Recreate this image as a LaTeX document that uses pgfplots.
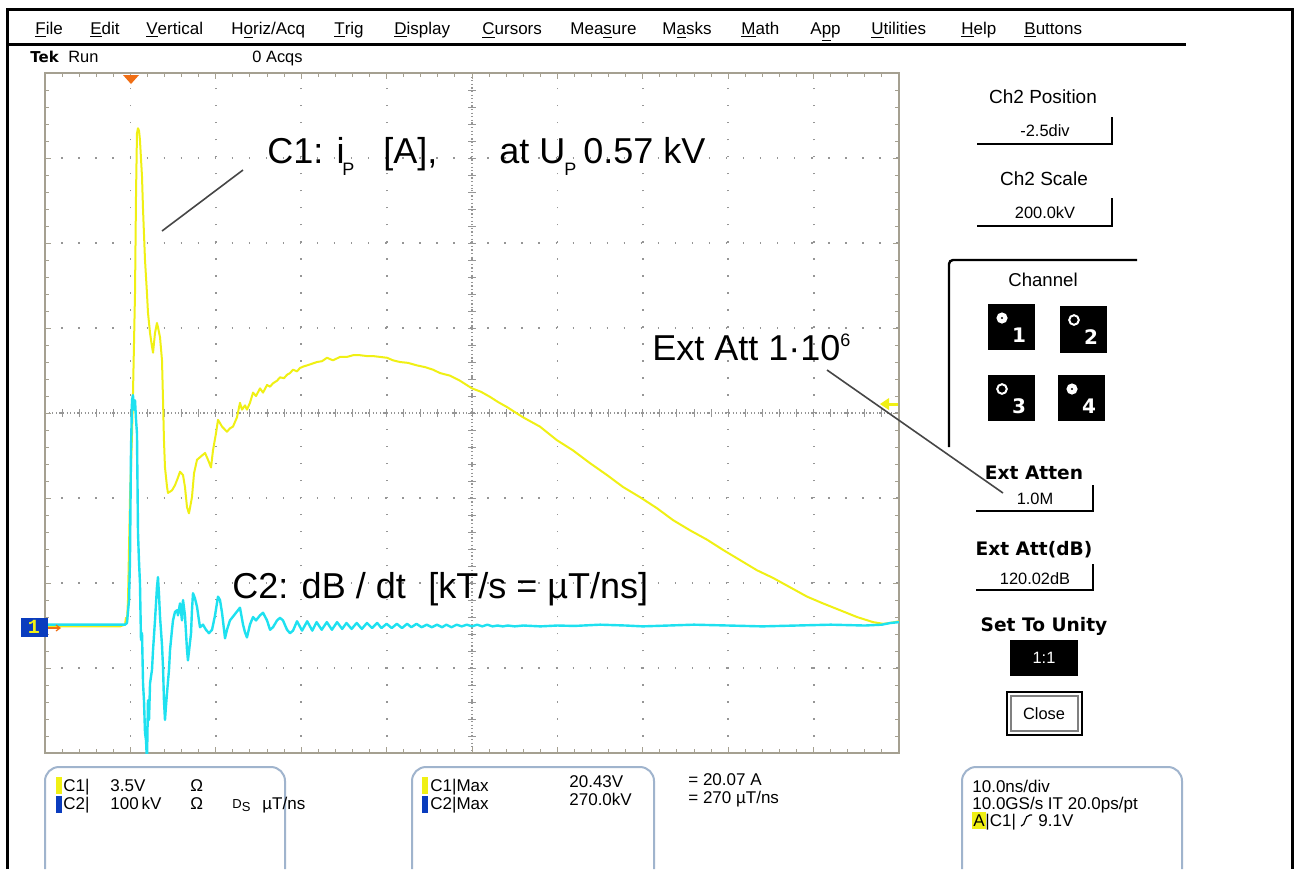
\documentclass[border=0pt]{standalone}
\usepackage{pgfplots}
\pgfplotsset{compat=1.18}
\usepackage{fontspec}
\setmainfont{Liberation Sans}
\newfontfamily\dvs{DejaVu Sans}
\newfontfamily\lmono{Liberation Mono}
\definecolor{tyel}{RGB}{240,240,20}
\definecolor{tcyan}{RGB}{30,225,240}
\definecolor{gridc}{RGB}{150,150,150}
\definecolor{framec}{RGB}{165,160,145}
\definecolor{boxc}{RGB}{160,180,205}
\definecolor{ubar}{RGB}{10,60,190}
\definecolor{trigc}{RGB}{240,110,20}
\definecolor{ann}{RGB}{70,70,70}
\newcommand{\fs}[1]{\fontsize{#1}{#1}\selectfont}
\begin{document}
\begin{tikzpicture}
\useasboundingbox (0,0) rectangle (647pt,-434.5pt);
\fill[white] (0,0) rectangle (647pt,-434.5pt);
\begin{scope}[x=0.5pt,y=-0.5pt]
% frame
\draw[line width=1.5pt] (7,869) -- (7,9) -- (1292,9) -- (1292,869);
\draw[line width=1.3pt] (8,44.5) -- (1186,44.5);
% menu
\foreach \x/\t in {35/{\underline{F}ile},90/{\underline{E}dit},146/{\underline{V}ertical},231/{H\underline{o}riz/Acq},334/{\underline{T}rig},394/{\underline{D}isplay},482/{\underline{C}ursors},570/{Mea\underline{s}ure},662/{M\underline{a}sks},741/{\underline{M}ath},810/{A\underline{p}p},871/{\underline{U}tilities},961/{\underline{H}elp},1024/{\underline{B}uttons}}
  \node[anchor=base west, inner sep=0, font=\fs{8.5}] at (\x,34) {\t};
\node[anchor=base west, inner sep=0, font=\dvs\bfseries\fs{7.5}] at (30,62) {Tek};
\node[anchor=base west, inner sep=0, font=\fs{8.2}] at (68,62) {Run};
\node[anchor=base west, inner sep=0, font=\fs{8.2}] at (252,62) {0 Acqs};
% centre cross
\draw[gridc, line width=0.6pt, dash pattern=on 0.6pt off 1.2pt] (45,413) -- (899,413);
\draw[gridc, line width=0.6pt, dash pattern=on 0.6pt off 1.2pt] (472,73) -- (472,753);
\foreach \i in {0,...,50} \draw[gridc, line width=0.5pt] ({45+17.08*\i},409) -- ({45+17.08*\i},417);
\foreach \i in {0,...,40} \draw[gridc, line width=0.5pt] (468,{73+17*\i}) -- (476,{73+17*\i});
\end{scope}

\begin{axis}[at={(22.5pt,-376.5pt)}, anchor=south west, scale only axis,
  width=427pt, height=340pt, xmin=0, xmax=100, ymin=-4, ymax=4,
  xtick={0,10,...,100}, ytick={-4,-3,...,4}, minor x tick num=4, minor y tick num=4,
  xticklabel=\empty, yticklabel=\empty, tick align=inside,
  major tick length=3pt, minor tick length=2pt,
  every tick/.style={framec, line width=0.5pt},
  axis line style={framec, line width=0.9pt},
  grid=major, major grid style={gridc, line width=0.9pt, dash pattern=on 0.7pt off 7.82pt, dash phase=0.35pt}]
\addplot[tyel, line width=1pt, line join=round] coordinates {
(0,-2.51) (8.78,-2.51) (9.37,-2.49) (9.48,-2.41) (9.60,-2.45) (9.72,-2.20) (9.95,-1.02) (10.19,-0.24)
(10.30,0.21) (10.54,1.41) (10.66,2.59) (10.77,3.29) (10.89,3.35) (11.01,3.32) (11.12,3.21) (11.36,2.78)
(11.48,2.39) (11.71,1.80) (11.94,1.41) (12.06,1.18) (12.30,0.94) (12.53,0.78) (12.65,0.71) (12.88,0.94)
(13.11,1.06) (13.23,1.01) (13.47,0.89) (13.70,0.62) (13.82,0.15) (13.93,-0.32) (14.05,-0.64) (14.29,-0.87)
(14.40,-0.94) (14.87,-0.91) (15.22,-0.85) (15.57,-0.76) (15.81,-0.69) (16.16,-0.73) (16.39,-0.87) (16.63,-1.11)
(16.86,-1.18) (17.21,-0.99) (17.45,-0.71) (17.80,-0.55) (18.15,-0.52) (18.74,-0.47) (19.09,-0.55) (19.44,-0.64)
(19.67,-0.44) (20.02,-0.24) (20.26,-0.08) (20.73,-0.16) (21.31,-0.22) (21.66,-0.18) (22.01,-0.16) (22.48,-0.05)
(22.83,0.12) (23.07,0.04) (23.42,0.09) (23.65,0.04) (24.00,0.12) (24.36,0.24) (24.71,0.20) (25.18,0.29)
(25.53,0.24) (26.00,0.33) (26.35,0.31) (26.70,0.35) (27.17,0.38) (27.52,0.42) (27.99,0.41) (28.34,0.45)
(28.69,0.47) (29.04,0.51) (29.51,0.49) (29.86,0.53) (30.33,0.55) (30.68,0.56) (31.26,0.58) (31.85,0.60)
(32.44,0.61) (33.02,0.65) (33.72,0.62) (34.54,0.66) (35.36,0.66) (36.07,0.68) (36.89,0.68) (37.70,0.67)
(38.41,0.67) (39.23,0.66) (40.05,0.65) (40.75,0.62) (41.57,0.60) (42.51,0.59) (43.56,0.56) (44.50,0.54)
(45.43,0.51) (46.25,0.47) (47.42,0.44) (48.59,0.38) (50.00,0.29) (51.05,0.25) (52.11,0.19) (53.04,0.13)
(54.10,0.07) (55.97,-0.05) (57.96,-0.16) (59.95,-0.32) (61.83,-0.44) (63.82,-0.59) (65.81,-0.73) (67.68,-0.87)
(69.67,-0.99) (71.66,-1.12) (73.54,-1.26) (75.53,-1.38) (77.52,-1.49) (79.39,-1.61) (81.38,-1.73) (83.37,-1.85)
(85.25,-1.94) (87.24,-2.05) (89.23,-2.16) (91.10,-2.24) (93.09,-2.32) (95.08,-2.40) (96.96,-2.46) (98.13,-2.48)
(98.95,-2.47) (100,-2.45)};
\addplot[tcyan, line width=1.2pt, line join=round] coordinates {
(0,-2.49) (9.37,-2.49) (9.60,-2.47) (9.84,-2.2) (9.95,-1.73) (10.07,-0.44) (10.19,0.15) (10.30,0.21)
(10.42,0.04) (10.54,0.15) (10.66,-0.08) (10.77,-0.24) (10.89,-1.41) (11.00,-1.73) (11.12,-2.0) (11.24,-2.67)
(11.36,-2.59) (11.48,-3.18) (11.59,-3.38) (11.71,-3.76) (11.83,-3.85) (11.94,-4.1) (12.06,-3.38) (12.18,-3.61)
(12.30,-3.18) (12.53,-3.02) (12.65,-2.79) (12.88,-2.44) (13.11,-2.05) (13.23,-1.93) (13.35,-2.14) (13.47,-2.40)
(13.70,-2.73) (13.82,-2.99) (13.93,-3.38) (14.05,-3.61) (14.17,-3.44) (14.29,-3.29) (14.52,-3.02) (14.64,-2.79)
(14.87,-2.55) (14.99,-2.44) (15.22,-2.34) (15.46,-2.32) (15.57,-2.38) (15.81,-2.24) (16.04,-2.44) (16.16,-2.20)
(16.39,-2.38) (16.63,-2.79) (16.74,-2.91) (17.10,-2.59) (17.21,-2.32) (17.33,-2.12) (17.56,-2.18) (17.80,-2.28)
(18.03,-2.44) (18.15,-2.52) (18.50,-2.49) (18.85,-2.55) (19.20,-2.59) (19.56,-2.55) (19.91,-2.38) (20.26,-2.16)
(20.49,-2.20) (20.73,-2.35) (21.08,-2.65) (21.31,-2.55) (21.66,-2.44) (22.13,-2.38) (22.60,-2.32) (22.83,-2.29)
(23.19,-2.49) (23.42,-2.58) (23.65,-2.64) (24.00,-2.49) (24.36,-2.40) (24.71,-2.44) (25.18,-2.38) (25.53,-2.35)
(26.00,-2.44) (26.35,-2.55) (26.70,-2.52) (27.17,-2.44) (27.52,-2.41) (27.87,-2.44) (28.34,-2.55) (28.69,-2.59)
(29.04,-2.56) (29.51,-2.45) (30.1,-2.56) (30.7,-2.45) (31.3,-2.56) (31.8,-2.46) (32.4,-2.55) (33.0,-2.46)
(33.6,-2.55) (34.2,-2.46) (34.8,-2.54) (35.3,-2.47) (35.9,-2.54) (36.5,-2.47) (37.1,-2.54) (37.7,-2.47)
(38.3,-2.53) (38.9,-2.47) (39.4,-2.53) (40.0,-2.48) (40.6,-2.53) (41.2,-2.48) (41.8,-2.53) (42.4,-2.48)
(42.9,-2.52) (43.5,-2.48) (44.1,-2.52) (44.7,-2.49) (45.3,-2.52) (45.9,-2.49) (46.5,-2.52) (47.0,-2.49)
(47.6,-2.52) (48.2,-2.49) (48.8,-2.51) (49.4,-2.49) (50.0,-2.51) (50.6,-2.49) (51.2,-2.51) (51.8,-2.49)
(52.4,-2.51) (53.0,-2.50) (53.6,-2.51) (54.2,-2.50) (55.0,-2.51) (56.0,-2.50) (58.0,-2.51) (60.0,-2.50)
(62.0,-2.505) (65.0,-2.49) (68.0,-2.50) (70.0,-2.51) (73.0,-2.50) (76.0,-2.49) (80.0,-2.50) (84.0,-2.51)
(88.0,-2.50) (92.0,-2.49) (96.0,-2.50) (98.0,-2.49) (99.0,-2.47) (100,-2.46)};
\end{axis}

\begin{scope}[x=0.5pt,y=-0.5pt]
% markers
\fill[trigc] (123,75) -- (139,75) -- (131,84) -- cycle;
\fill[tyel] (880,404) -- (889,398) -- (889,410) -- cycle;
\draw[tyel, line width=1.5pt] (888,404) -- (898,404);
\fill[ubar] (21,618) rectangle (48,637);
\node[text=tyel, font=\lmono\bfseries\fs{10}, inner sep=0] at (34,627) {1};
\draw[trigc, line width=0.6pt] (48,628) -- (60,628);
\draw[trigc, line width=0.6pt] (56,625) -- (60,628) -- (56,631);
% annotations
\draw[ann, line width=0.8pt] (243,170) -- (162,231);
\draw[ann, line width=0.8pt] (827,370) -- (1003,493);
\begin{scope}[every node/.style={anchor=base west, inner sep=0}]
\node[font=\fs{18}] at (267,163) {C1: i};
\node[font=\fs{9}] at (342,175) {P};
\node[font=\fs{18}] at (383,163) {[A],};
\node[font=\fs{18}] at (499,163) {at U};
\node[font=\fs{9}] at (564,175) {P};
\node[font=\fs{18}] at (583,163) {0.57 kV};
\node[font=\fs{18}] at (232,598) {C2: dB / dt};
\node[font=\fs{18}] at (428,598) {[kT/s = µT/ns]};
\node[font=\fs{18}] at (652,360) {Ext Att 1·10};
\node[font=\fs{9}] at (840,346) {6};
\end{scope}
% right panel
\node[font=\fs{9.5}] at (1043,97) {Ch2 Position};
\node[font=\fs{8.2}] at (1045,131) {-2.5div};
\draw[line width=0.8pt] (977,144) -- (1112,144) -- (1112,117);
\node[font=\fs{9.5}] at (1044,179) {Ch2 Scale};
\node[font=\fs{8.2}] at (1045,213) {200.0kV};
\draw[line width=0.8pt] (977,226) -- (1112,226) -- (1112,198);
\draw[line width=1.2pt, rounded corners=2pt] (949,447) -- (949,260) -- (1137,260);
\node[font=\fs{9.3}] at (1043,280) {Channel};
\fill (988,304) rectangle (1035,350);
\fill (1060,306) rectangle (1107,353);
\fill (988,375) rectangle (1035,421);
\fill (1058,375) rectangle (1105,421);
\fill[white] (1002,318) circle (2.8pt); \fill (1002,318) circle (0.6pt);
\draw[white, line width=1pt] (1074,320) circle (2.4pt);
\draw[white, line width=1pt] (1002,389) circle (2.4pt);
\fill[white] (1072,389) circle (2.8pt); \fill (1072,389) circle (0.6pt);
\node[text=white, font=\dvs\bfseries\fs{10}] at (1019,335) {1};
\node[text=white, font=\dvs\bfseries\fs{10}] at (1091,337) {2};
\node[text=white, font=\dvs\bfseries\fs{10}] at (1019,406) {3};
\node[text=white, font=\dvs\bfseries\fs{10}] at (1089,406) {4};
\node[font=\dvs\bfseries\fs{9.3}] at (1034,473) {Ext Atten};
\node[font=\fs{8.2}] at (1035,499) {1.0M};
\draw[line width=0.8pt] (976,511) -- (1093,511) -- (1093,485);
\node[font=\dvs\bfseries\fs{9.3}] at (1034,550) {Ext Att(dB)};
\node[font=\fs{8.2}] at (1035,579) {120.02dB};
\draw[line width=0.8pt] (976,590) -- (1093,590) -- (1093,564);
\node[font=\dvs\bfseries\fs{9.3}] at (1044,626) {Set To Unity};
\fill (1010,640) rectangle (1078,676);
\node[text=white, font=\fs{8.2}] at (1044,658) {1:1};
\draw[line width=0.7pt] (1007,692) rectangle (1082,735);
\draw[gray, line width=0.7pt] (1011,696) rectangle (1078,731);
\node[font=\fs{8.2}] at (1044,714) {Close};
% bottom boxes
\draw[boxc, line width=1pt, rounded corners=7pt] (45,869) -- (45,767) -- (285,767) -- (285,869);
\draw[boxc, line width=1pt, rounded corners=7pt] (412,869) -- (412,767) -- (654,767) -- (654,869);
\draw[boxc, line width=1pt, rounded corners=7pt] (962,869) -- (962,767) -- (1182,767) -- (1182,869);
\fill[tyel] (56,777) rectangle (62,794);
\fill[ubar] (56,796) rectangle (62,813);
\fill[tyel] (422,777) rectangle (428,794);
\fill[ubar] (422,796) rectangle (428,813);
\fill[tyel] (972,812) rectangle (986,829);
\draw[line width=0.6pt] (1021,826) .. controls (1026,826) and (1024,815) .. (1030,815) -- (1032,815);
\begin{scope}[every node/.style={anchor=base west, inner sep=0, font=\fs{8.5}}]
\node at (63,791) {C1|};
\node at (110,791) {3.5V};
\node at (190,791) {Ω};
\node at (63,809) {C2|};
\node at (110,809) {100\,kV};
\node at (190,809) {Ω};
\node[font=\fs{6.5}] at (232,808) {D\raisebox{-1.5pt}{S}};
\node at (262,809) {µT/ns};
\node at (430,791) {C1|Max};
\node at (430,809) {C2|Max};
\node at (569,787) {20.43V};
\node at (569,805) {270.0kV};
\node at (688,785) {= 20.07 A};
\node at (688,803) {= 270 µT/ns};
\node at (972,792) {10.0ns/div};
\node at (972,809) {10.0GS/s IT 20.0ps/pt};
\node at (973,826) {A};
\node at (985,826) {|C1|};
\node at (1038,826) {9.1V};
\end{scope}
\end{scope}
\end{tikzpicture}
\end{document}
